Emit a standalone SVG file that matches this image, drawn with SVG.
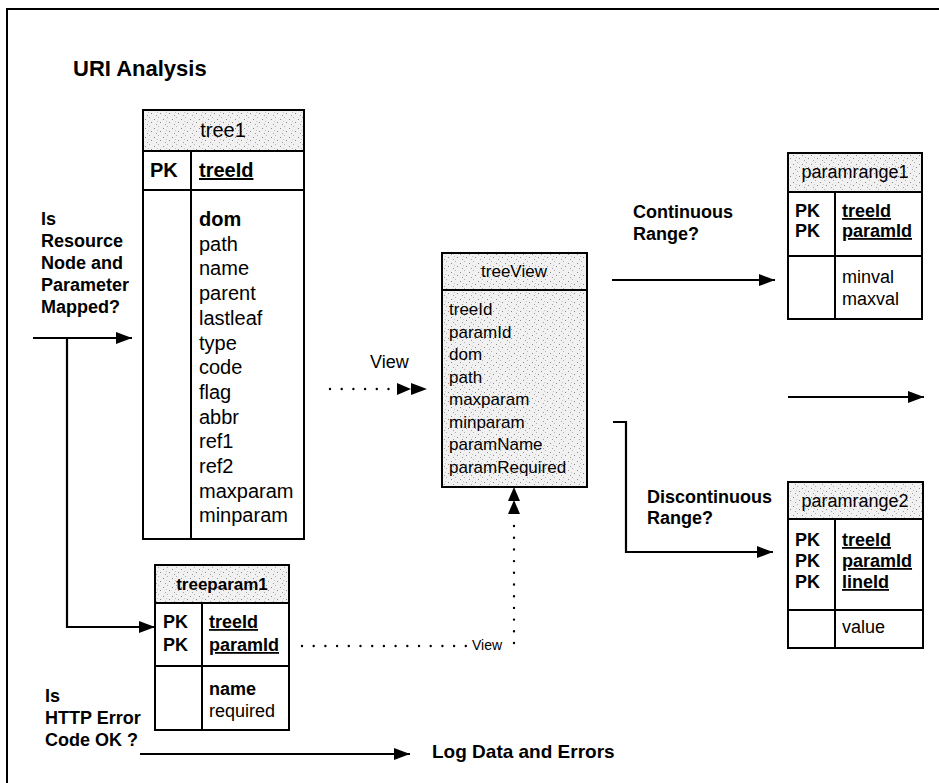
<svg xmlns="http://www.w3.org/2000/svg" width="939" height="783" viewBox="0 0 939 783">
<style>
  text { font-family: "Liberation Sans", Arial, sans-serif; fill: #000; }
  .b { font-weight: bold; }
  .u { text-decoration: underline; }
  .tbl { fill: #fff; stroke: #000; stroke-width: 2; }
  .hdr { fill: url(#stip); stroke: #000; stroke-width: 2; }
  .ln { stroke: #000; stroke-width: 2; fill: none; }
  .arr { stroke: #000; stroke-width: 2.2; fill: none; }
  .dot { stroke: #000; stroke-width: 2.4; fill: none; stroke-linecap: round; stroke-dasharray: 0 11.7; }
  .head { fill: #000; stroke: none; }
  .f20 { font-size: 20px; }
  .f18 { font-size: 18px; }
  .f17 { font-size: 17px; }
</style>
<defs>
  <pattern id="stip" width="9" height="9" patternUnits="userSpaceOnUse">
    <rect width="9" height="9" fill="#f1f1f1"/>
    <rect x="1" y="2" width="1" height="1" fill="#8a8a8a"/>
    <rect x="5" y="0" width="1" height="1" fill="#b0b0b0"/>
    <rect x="7" y="5" width="1" height="1" fill="#8a8a8a"/>
    <rect x="3" y="7" width="1" height="1" fill="#a0a0a0"/>
    <rect x="4" y="4" width="1" height="1" fill="#c4c4c4"/>
  </pattern>
  <marker id="ah" markerUnits="userSpaceOnUse" markerWidth="16" markerHeight="12" refX="16" refY="6" orient="auto">
    <path d="M0,0 L16,6 L0,12 z" fill="#000"/>
  </marker>
</defs>

<g id="frame">
  <path class="ln" d="M7,783 L7,9 L939,9"/>
</g>

<text x="73" y="76" class="b" font-size="22">URI Analysis</text>

<g id="labels">
  <text class="b f18" x="41" y="225">Is</text>
  <text class="b f18" x="41" y="247">Resource</text>
  <text class="b f18" x="41" y="269">Node and</text>
  <text class="b f18" x="41" y="291">Parameter</text>
  <text class="b f18" x="41" y="313">Mapped?</text>
  <text class="b f18" x="633" y="218">Continuous</text>
  <text class="b f18" x="633" y="240">Range?</text>
  <text class="b f18" x="647" y="503">Discontinuous</text>
  <text class="b f18" x="647" y="524">Range?</text>
  <text class="b f18" x="45" y="702">Is</text>
  <text class="b f18" x="45" y="724">HTTP Error</text>
  <text class="b f18" x="45" y="746">Code OK ?</text>
  <text class="b" font-size="19" x="432" y="758">Log Data and Errors</text>
  <text font-size="18" x="370" y="368">View</text>
  <text font-size="14" x="472" y="650">View</text>
</g>

<g id="tree1">
  <rect class="tbl" x="143" y="110" width="161" height="429"/>
  <rect class="hdr" x="143" y="110" width="161" height="41"/>
  <line class="ln" x1="143" y1="190" x2="304" y2="190"/>
  <line class="ln" x1="191" y1="151" x2="191" y2="539"/>
  <text class="f20" x="223" y="137" text-anchor="middle">tree1</text>
  <text class="f20 b" x="150" y="177">PK</text>
  <text class="f20 b u" x="199" y="177">treeId</text>
  <text class="f20 b" x="199" y="226">dom</text>
  <text class="f20" x="199" y="250.7">path</text>
  <text class="f20" x="199" y="275.4">name</text>
  <text class="f20" x="199" y="300.1">parent</text>
  <text class="f20" x="199" y="324.8">lastleaf</text>
  <text class="f20" x="199" y="349.5">type</text>
  <text class="f20" x="199" y="374.2">code</text>
  <text class="f20" x="199" y="398.9">flag</text>
  <text class="f20" x="199" y="423.6">abbr</text>
  <text class="f20" x="199" y="448.3">ref1</text>
  <text class="f20" x="199" y="473">ref2</text>
  <text class="f20" x="199" y="497.7">maxparam</text>
  <text class="f20" x="199" y="522.4">minparam</text>
</g>

<g id="treeparam1">
  <rect class="tbl" x="155" y="565" width="134" height="165"/>
  <rect class="hdr" x="155" y="565" width="134" height="38"/>
  <line class="ln" x1="155" y1="666" x2="289" y2="666"/>
  <line class="ln" x1="202" y1="603" x2="202" y2="730"/>
  <text class="b" x="222" y="590" text-anchor="middle" font-size="17">treeparam1</text>
  <text class="f18 b" x="163" y="628">PK</text>
  <text class="f18 b" x="163" y="651">PK</text>
  <text class="f18 b u" x="209" y="628">treeId</text>
  <text class="f18 b u" x="209" y="651">paramId</text>
  <text class="f18 b" x="209" y="695">name</text>
  <text class="f18" x="209" y="717">required</text>
</g>

<g id="treeView">
  <rect class="hdr" x="442" y="253" width="145" height="234"/>
  <line class="ln" x1="442" y1="290" x2="587" y2="290"/>
  <text class="f17" x="514" y="277" text-anchor="middle">treeView</text>
  <text class="f17" x="449" y="315">treeId</text>
  <text class="f17" x="449" y="337.5">paramId</text>
  <text class="f17" x="449" y="360">dom</text>
  <text class="f17" x="449" y="382.5">path</text>
  <text class="f17" x="449" y="405">maxparam</text>
  <text class="f17" x="449" y="427.5">minparam</text>
  <text class="f17" x="449" y="450">paramName</text>
  <text class="f17" x="449" y="472.5">paramRequired</text>
</g>

<g id="paramrange1">
  <rect class="tbl" x="788" y="153" width="134" height="166"/>
  <rect class="hdr" x="788" y="153" width="134" height="39"/>
  <line class="ln" x1="788" y1="256" x2="922" y2="256"/>
  <line class="ln" x1="835" y1="192" x2="835" y2="319"/>
  <text class="f18" x="855" y="178" text-anchor="middle">paramrange1</text>
  <text class="f18 b" x="795" y="217">PK</text>
  <text class="f18 b" x="795" y="237">PK</text>
  <text class="f18 b u" x="842" y="217">treeId</text>
  <text class="f18 b u" x="842" y="237">paramId</text>
  <text class="f18" x="842" y="283">minval</text>
  <text class="f18" x="842" y="305">maxval</text>
</g>

<g id="paramrange2">
  <rect class="tbl" x="788" y="482" width="135" height="166"/>
  <rect class="hdr" x="788" y="482" width="135" height="37"/>
  <line class="ln" x1="788" y1="610" x2="923" y2="610"/>
  <line class="ln" x1="835" y1="519" x2="835" y2="648"/>
  <text class="f18" x="855" y="507" text-anchor="middle">paramrange2</text>
  <text class="f18 b" x="795" y="546">PK</text>
  <text class="f18 b" x="795" y="567">PK</text>
  <text class="f18 b" x="795" y="588">PK</text>
  <text class="f18 b u" x="842" y="546">treeId</text>
  <text class="f18 b u" x="842" y="567">paramId</text>
  <text class="f18 b u" x="842" y="588">lineId</text>
  <text class="f18" x="842" y="633">value</text>
</g>

<g id="connectors">
  <path class="arr" d="M33,338 L132,338" marker-end="url(#ah)"/>
  <path class="arr" d="M67,338 L67,627 L155,627" marker-end="url(#ah)"/>
  <path class="arr" d="M140,754 L410,754" marker-end="url(#ah)"/>
  <path class="arr" d="M612,280 L775,280" marker-end="url(#ah)"/>
  <path class="arr" d="M788,397 L924,397" marker-end="url(#ah)"/>
  <path class="arr" d="M613,422 L626,422 L626,552 L773,552" marker-end="url(#ah)"/>
  <path class="dot" d="M330,389 L395,389"/>
  <polygon class="head" points="397,383 411,389 397,395"/>
  <polygon class="head" points="411,383 427,389 411,395"/>
  <path class="dot" d="M302,646 L466,646"/>
  <path class="dot" d="M514,643 L514,515"/>
  <polygon class="head" points="508,514 514,500 520,514"/>
  <polygon class="head" points="508,501 514,487 520,501"/>
</g>
</svg>
